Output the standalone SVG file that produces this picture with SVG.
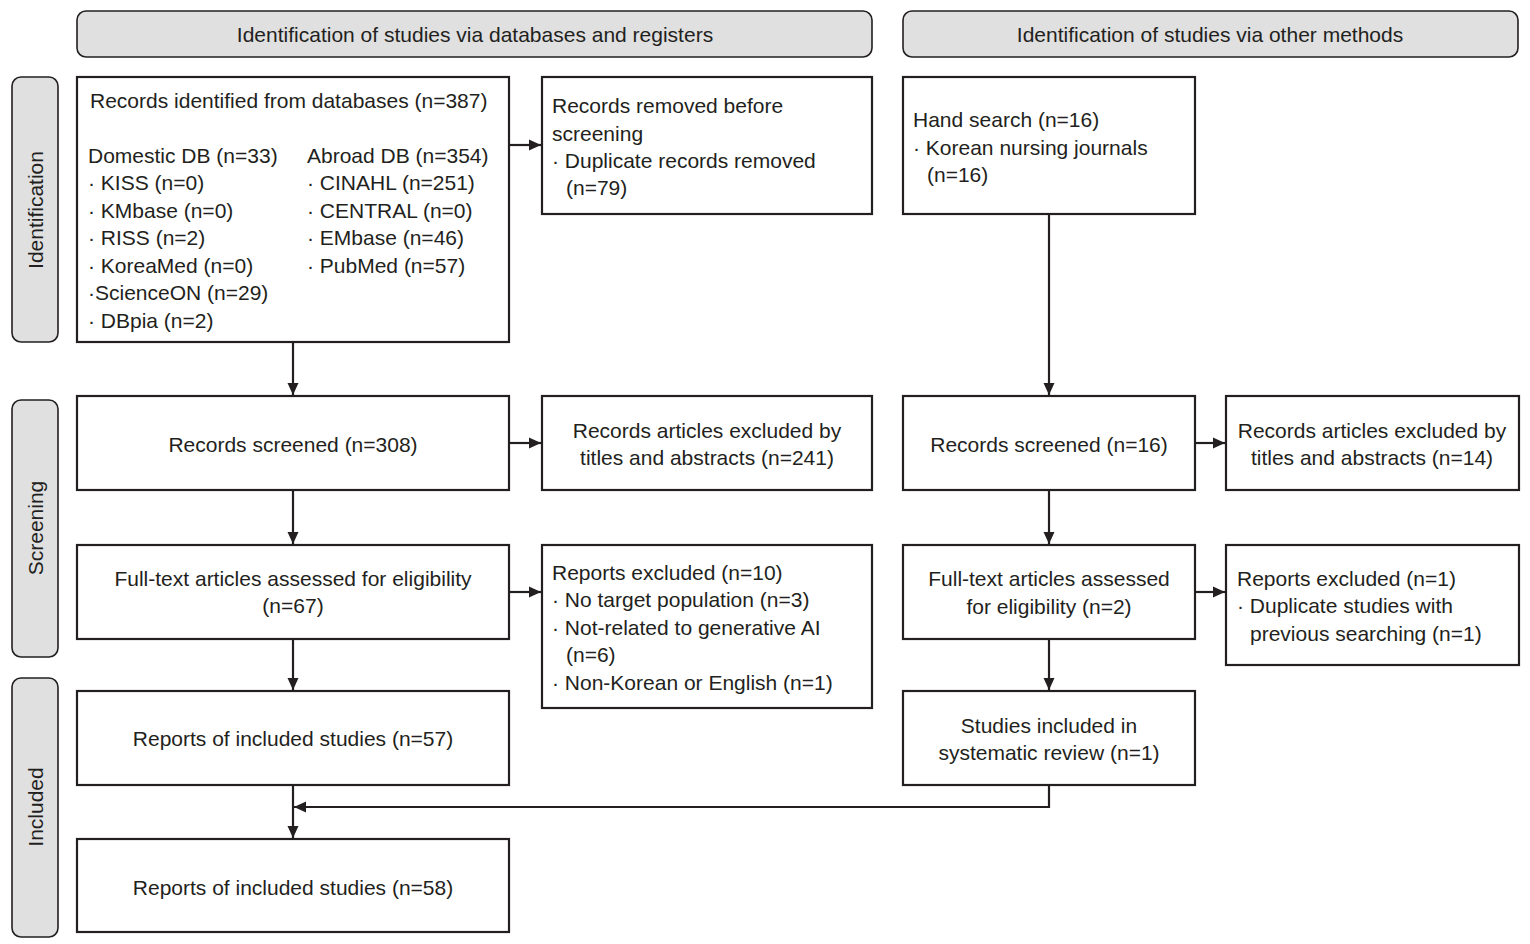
<svg xmlns="http://www.w3.org/2000/svg" width="1530" height="944" viewBox="0 0 1530 944">
<style>
text{font-family:"Liberation Sans",Arial,sans-serif;font-size:21px;fill:#231f20}
.c{text-anchor:middle}
.box{fill:#fff;stroke:#231f20;stroke-width:2.2}
.hdr{fill:#e0e0e0;stroke:#231f20;stroke-width:1.6}
.ln{fill:none;stroke:#231f20;stroke-width:2.2}
</style>
<defs>
<marker id="ah" viewBox="0 0 12 12" refX="12" refY="6" markerWidth="12" markerHeight="12" orient="auto" markerUnits="userSpaceOnUse">
<path d="M0,0.5 L12,6 L0,11.5 Z" fill="#231f20"/>
</marker>
</defs>
<rect width="1530" height="944" fill="#fff"/>

<g id="hdr-left"><rect class="hdr" x="77" y="11" width="795" height="46" rx="9"/><text class="c" x="475" y="42">Identification of studies via databases and registers</text></g>
<g id="hdr-right"><rect class="hdr" x="903" y="11" width="615" height="46" rx="9"/><text class="c" x="1210" y="42">Identification of studies via other methods</text></g>

<g id="side-ident"><rect class="hdr" x="12" y="77" width="46" height="265" rx="9"/><text class="c" transform="translate(43,210) rotate(-90)">Identification</text></g>
<g id="side-screen"><rect class="hdr" x="12" y="400" width="46" height="257" rx="9"/><text class="c" transform="translate(43,528) rotate(-90)">Screening</text></g>
<g id="side-incl"><rect class="hdr" x="12" y="678" width="46" height="259" rx="9"/><text class="c" transform="translate(43,807) rotate(-90)">Included</text></g>

<g id="connectors">
<path class="ln" d="M293,342 V395" marker-end="url(#ah)"/>
<path class="ln" d="M509,145 H541" marker-end="url(#ah)"/>
<path class="ln" d="M1049,214 V395" marker-end="url(#ah)"/>
<path class="ln" d="M509,443 H541" marker-end="url(#ah)"/>
<path class="ln" d="M1195,443 H1225" marker-end="url(#ah)"/>
<path class="ln" d="M293,490 V544" marker-end="url(#ah)"/>
<path class="ln" d="M1049,490 V544" marker-end="url(#ah)"/>
<path class="ln" d="M509,592 H541" marker-end="url(#ah)"/>
<path class="ln" d="M1195,592 H1225" marker-end="url(#ah)"/>
<path class="ln" d="M293,639 V690" marker-end="url(#ah)"/>
<path class="ln" d="M1049,639 V690" marker-end="url(#ah)"/>
<path class="ln" d="M293,785 V838" marker-end="url(#ah)"/>
<path class="ln" d="M1049,785 V807 H294" marker-end="url(#ah)"/>
</g>

<g id="n-records-identified"><rect class="box" x="77" y="77" width="432" height="265"/>
<text x="90" y="108">Records identified from databases (n=387)</text>
<text x="88" y="163">Domestic DB (n=33)</text>
<text x="88" y="190">· KISS (n=0)</text>
<text x="88" y="218">· KMbase (n=0)</text>
<text x="88" y="245">· RISS (n=2)</text>
<text x="88" y="273">· KoreaMed (n=0)</text>
<text x="88" y="300">·ScienceON (n=29)</text>
<text x="88" y="328">· DBpia (n=2)</text>
<text x="307" y="163">Abroad DB (n=354)</text>
<text x="307" y="190">· CINAHL (n=251)</text>
<text x="307" y="218">· CENTRAL (n=0)</text>
<text x="307" y="245">· EMbase (n=46)</text>
<text x="307" y="273">· PubMed (n=57)</text>
</g>
<g id="n-removed"><rect class="box" x="542" y="77" width="330" height="137"/>
<text x="552" y="113">Records removed before</text>
<text x="552" y="141">screening</text>
<text x="552" y="168">· Duplicate records removed</text>
<text x="566" y="195">(n=79)</text>
</g>
<g id="n-hand"><rect class="box" x="903" y="77" width="292" height="137"/>
<text x="913" y="127">Hand search (n=16)</text>
<text x="913" y="155">· Korean nursing journals</text>
<text x="927" y="182">(n=16)</text>
</g>
<g id="n-screened-db"><rect class="box" x="77" y="396" width="432" height="94"/>
<text class="c" x="293" y="452">Records screened (n=308)</text></g>
<g id="n-excl-db"><rect class="box" x="542" y="396" width="330" height="94"/>
<text class="c" x="707" y="438">Records articles excluded by</text>
<text class="c" x="707" y="465">titles and abstracts (n=241)</text></g>
<g id="n-screened-other"><rect class="box" x="903" y="396" width="292" height="94"/>
<text class="c" x="1049" y="452">Records screened (n=16)</text></g>
<g id="n-excl-other"><rect class="box" x="1226" y="396" width="293" height="94"/>
<text class="c" x="1372" y="438">Records articles excluded by</text>
<text class="c" x="1372" y="465">titles and abstracts (n=14)</text></g>
<g id="n-fulltext-db"><rect class="box" x="77" y="545" width="432" height="94"/>
<text class="c" x="293" y="586">Full-text articles assessed for eligibility</text>
<text class="c" x="293" y="613">(n=67)</text></g>
<g id="n-rep-excl-db"><rect class="box" x="542" y="545" width="330" height="163"/>
<text x="552" y="580">Reports excluded (n=10)</text>
<text x="552" y="607">· No target population (n=3)</text>
<text x="552" y="635">· Not-related to generative AI</text>
<text x="566" y="662">(n=6)</text>
<text x="552" y="690">· Non-Korean or English (n=1)</text></g>
<g id="n-fulltext-other"><rect class="box" x="903" y="545" width="292" height="94"/>
<text class="c" x="1049" y="586">Full-text articles assessed</text>
<text class="c" x="1049" y="614">for eligibility (n=2)</text></g>
<g id="n-rep-excl-other"><rect class="box" x="1226" y="545" width="293" height="120"/>
<text x="1237" y="586">Reports excluded (n=1)</text>
<text x="1237" y="613">· Duplicate studies with</text>
<text x="1250" y="641">previous searching (n=1)</text></g>
<g id="n-included-57"><rect class="box" x="77" y="691" width="432" height="94"/>
<text class="c" x="293" y="746">Reports of included studies (n=57)</text></g>
<g id="n-included-other"><rect class="box" x="903" y="691" width="292" height="94"/>
<text class="c" x="1049" y="733">Studies included in</text>
<text class="c" x="1049" y="760">systematic review (n=1)</text></g>
<g id="n-included-58"><rect class="box" x="77" y="839" width="432" height="93"/>
<text class="c" x="293" y="895">Reports of included studies (n=58)</text></g>
</svg>
